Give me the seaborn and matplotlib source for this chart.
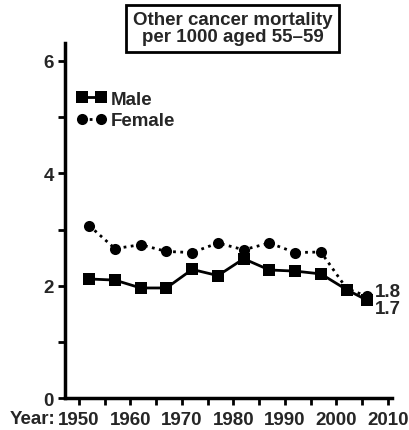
import pandas as pd
import numpy as np
import matplotlib.pyplot as plt
import seaborn as sns

# Data
years = [1952, 1957, 1962, 1967, 1972, 1977, 1982, 1987, 1992, 1997, 2002, 2006]
male = [2.12, 2.10, 1.96, 1.96, 2.29, 2.18, 2.48, 2.28, 2.26, 2.21, 1.93, 1.74]
female = [3.07, 2.66, 2.73, 2.61, 2.59, 2.76, 2.64, 2.76, 2.59, 2.60, 1.95, 1.81]
x_ticks = [1950, 1960, 1970, 1980, 1990, 2000, 2010]
y_ticks = [0, 2, 4, 6]

df = pd.DataFrame({
    "Year": years * 2,
    "Rate": male + female,
    "Sex": ["Male"] * len(years) + ["Female"] * len(years),
})

sns.set_style("ticks")
plt.rcParams["font.family"] = ["Liberation Sans", "DejaVu Sans"]
plt.rcParams["font.weight"] = "bold"
fs = 13.5

fig = plt.figure(figsize=(4.1, 4.31), dpi=100)
ax = fig.add_axes([0.1585, 0.074, 0.7975, 0.824])

sns.lineplot(data=df, x="Year", y="Rate", hue="Sex", style="Sex",
             palette={"Male": "black", "Female": "black"},
             markers={"Male": "s", "Female": "o"},
             dashes={"Male": "", "Female": (1, 1.6)},
             markersize=8, linewidth=2, markeredgewidth=0, ax=ax)

ax.set_xlim(1947.3, 2010.8)
ax.set_ylim(0, 6.32)
ax.set_xticks(x_ticks)
ax.set_xticks(np.arange(1955, 2010, 10), minor=True)
ax.set_yticks(y_ticks)
ax.set_yticks([1, 3, 5], minor=True)
ax.tick_params(axis="both", which="both", direction="out", width=2, color="black",
               labelsize=fs, length=5)
ax.tick_params(axis="x", pad=4)
ax.tick_params(axis="y", pad=3)
for lab in ax.get_xticklabels() + ax.get_yticklabels():
    lab.set_fontweight("bold")
ax.set_xlabel("")
ax.set_ylabel("")
sns.despine(ax=ax)
for side in ["left", "bottom"]:
    ax.spines[side].set_linewidth(2.5)
    ax.spines[side].set_color("black")

ax.text(-0.03, -0.058, "Year:", transform=ax.transAxes, ha="right", va="center",
        fontsize=fs, fontweight="bold")

ax.text(years[-1] + 1.5, female[-1] + 0.08, "1.8", ha="left", va="center",
        fontsize=fs, fontweight="bold")
ax.text(years[-1] + 1.5, male[-1] - 0.15, "1.7", ha="left", va="center",
        fontsize=fs, fontweight="bold")

leg = ax.legend(loc="upper left", bbox_to_anchor=(-0.005, 0.903), frameon=False,
                numpoints=2, handlelength=1.6, handletextpad=0.25,
                labelspacing=0.25, borderaxespad=0.3,
                prop={"weight": "bold", "size": fs})

fig.text(0.567, 0.932, "Other cancer mortality\nper 1000 aged 55\u201359",
         ha="center", va="center", fontsize=fs, fontweight="bold",
         linespacing=1.0,
         bbox=dict(boxstyle="square,pad=0.35", facecolor="white",
                   edgecolor="black", linewidth=2))

fig.savefig("out.png", dpi=100)
